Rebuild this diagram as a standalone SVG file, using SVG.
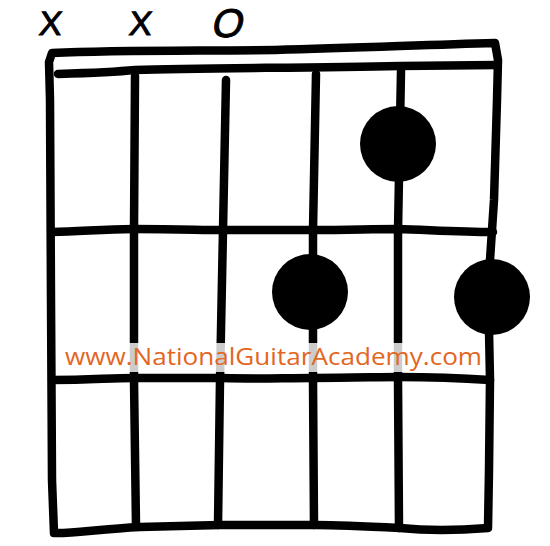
<svg xmlns="http://www.w3.org/2000/svg" width="550" height="546" viewBox="0 0 550 546">
  <style>
    .ln { fill: none; stroke: #000; stroke-width: 8.5; stroke-linecap: round; stroke-linejoin: round; }
    .dot { fill: #000; }
    .mk { font-family: "Liberation Sans", "DejaVu Sans", sans-serif; font-size: 34px; fill: #000; stroke: #000; stroke-width: 1; }
    .wm { font-family: "Open Sans", "Liberation Sans", sans-serif; font-size: 23px; fill: #E3661F; }
  </style>
  <rect width="550" height="546" fill="#fff"/>
  <g id="markers">
    <text class="mk" x="38" y="35" transform="skewX(-6)" dx="4">X</text>
    <text class="mk" x="128" y="35" transform="skewX(-6)" dx="4">X</text>
    <text class="mk" x="212" y="37" transform="skewX(-12)" dx="6" style="font-size:40px">O</text>
  </g>
  <g id="grid">
    <path class="ln" d="M52,53 C120,50 200,51 275,50 C360,48 420,45 495,43 L498,60 L497,100 L494,200 L490,260 L489,330 L490,380 L489,470 L488,528 C450,531 420,530 400,528 C360,526 340,525 316,525 L220,525 L140,527 C100,529 70,534 54,533 L52,480 L51,300 L50,100 L49,62 Z"/>
    <path class="ln" d="M58,74 C90,73 115,72 135,70 C200,68 300,68 400,66 L497,65"/>
    <path class="ln" d="M52,232 C80,232 100,229 134,229 C180,229 200,230 222,230 L313,230 C350,230 370,229 398,229 C430,230 460,232 493,232"/>
    <path class="ln" d="M52,380 C90,380 110,378 134,378 L222,378 C260,379 280,378 313,378 C350,378 380,377 398,377 C440,377 460,378 490,380"/>
    <path class="ln" d="M135,76 L134,230 L134,380 L136,526"/>
    <path class="ln" d="M226,80 L223,230 L220,380 L218,525"/>
    <path class="ln" d="M316,74 L313,230 L313,380 L314,525"/>
    <path class="ln" d="M401,71 L398,230 L398,380 L399,528"/>
  </g>
  <g id="band">
    <rect x="62" y="343" width="422" height="29" fill="#fff" fill-opacity="0.8"/>
  </g>
  <g id="dot-1"><circle class="dot" cx="398" cy="144" r="38"/></g>
  <g id="dot-2"><circle class="dot" cx="310" cy="292" r="38"/></g>
  <g id="dot-3"><circle class="dot" cx="492" cy="297" r="38"/></g>
  <g id="watermark">
    <text class="wm" x="65" y="365" textLength="417" lengthAdjust="spacingAndGlyphs">www.NationalGuitarAcademy.com</text>
  </g>
</svg>
